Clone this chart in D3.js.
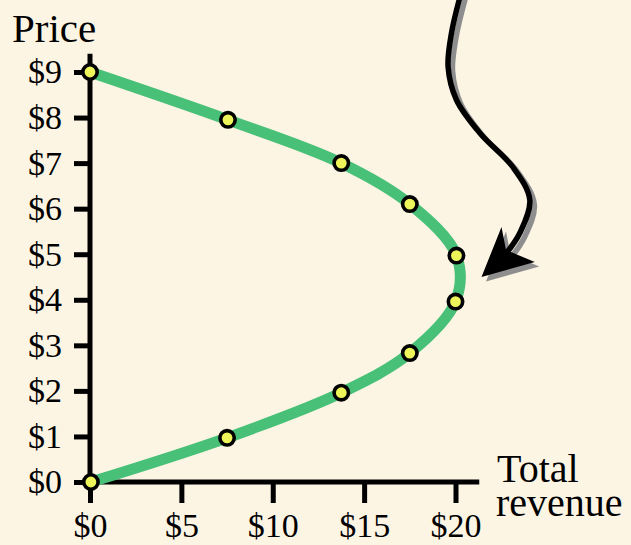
<!DOCTYPE html>
<html>
<head>
<meta charset="utf-8">
<script src="https://cdn.jsdelivr.net/npm/d3@7"></script>
<style>
  html, body { margin: 0; padding: 0; background: #fcf5e4; }
  svg { display: block; }
  text { font-family: "Liberation Serif", "Times New Roman", serif; fill: #000; }
</style>
</head>
<body>
<svg id="chart" width="631" height="545"></svg>
<script>
// Total revenue at each price along the demand curve
const prices   = [9, 7.95, 7.0, 6.1, 4.97, 3.96, 2.83, 1.96, 0.97, 0];
const revenues = [0, 7.55, 13.75, 17.5, 20.05, 20.0, 17.5, 13.75, 7.5, 0.05];

const priceTicks   = [0, 1, 2, 3, 4, 5, 6, 7, 8, 9];
const revenueTicks = [0, 5, 10, 15, 20];

// Peak of total revenue, where the arrow points (between $4 and $5)
const peakRevenue = 20;
const peakPrice = 4.5;

const svg = d3.select("#chart");
const W = 631, H = 545;

svg.append("rect").attr("width", W).attr("height", H).attr("fill", "#fcf5e4");

const x = d3.scaleLinear().domain([0, 20]).range([90, 455.5]);
const y = d3.scaleLinear().domain([0, 9]).range([482, 72]);

// Y axis
const yAxis = d3.axisLeft(y)
  .tickValues(priceTicks)
  .tickFormat(d => "$" + d)
  .tickSize(16)
  .tickPadding(12);
const gy = svg.append("g").attr("transform", `translate(${x(0)},0)`).call(yAxis);
gy.select(".domain").remove();
gy.selectAll(".tick line").attr("stroke", "#000").attr("stroke-width", 5);
gy.selectAll(".tick text").attr("font-size", 34)
  .attr("font-family", "'Liberation Serif', 'Times New Roman', serif").attr("fill", "#000");

// X axis
const xAxis = d3.axisBottom(x)
  .tickValues(revenueTicks)
  .tickFormat(d => "$" + d)
  .tickSize(21)
  .tickPadding(10);
const gx = svg.append("g").attr("transform", `translate(0,${y(0)})`).call(xAxis);
gx.select(".domain").remove();
gx.selectAll(".tick line").attr("stroke", "#000").attr("stroke-width", 5);
gx.selectAll(".tick text").attr("font-size", 34)
  .attr("font-family", "'Liberation Serif', 'Times New Roman', serif").attr("fill", "#000");

// Axis lines
svg.append("line")
  .attr("x1", x(0)).attr("x2", x(0))
  .attr("y1", y(9.4)).attr("y2", y(0) + 2.5)
  .attr("stroke", "#000").attr("stroke-width", 5);
svg.append("line")
  .attr("x1", x(0) - 2.5).attr("x2", x(21.3))
  .attr("y1", y(0)).attr("y2", y(0))
  .attr("stroke", "#000").attr("stroke-width", 5);

// Axis titles
svg.append("text").attr("x", 12).attr("y", 42).attr("font-size", 41).text("Price");
svg.append("text").attr("x", 497).attr("y", 482).attr("font-size", 40).text("Total");
svg.append("text").attr("x", 496).attr("y", 516).attr("font-size", 40).text("revenue");

// Revenue curve
const pts = prices.map((p, i) => ({ p, r: revenues[i] }));
const line = d3.line()
  .x(d => x(d.r))
  .y(d => y(d.p))
  .curve(d3.curveCatmullRom.alpha(0.5));

svg.append("path")
  .datum(pts)
  .attr("d", line)
  .attr("fill", "none")
  .attr("stroke", "#48c078")
  .attr("stroke-width", 11)
  .attr("stroke-linecap", "round");

svg.selectAll("circle.pt")
  .data(pts)
  .join("circle")
  .attr("class", "pt")
  .attr("cx", d => x(d.r))
  .attr("cy", d => y(d.p))
  .attr("r", 7.2)
  .attr("fill", "#eef55a")
  .attr("stroke", "#000")
  .attr("stroke-width", 3.6);

// Curved annotation arrow pointing at the revenue peak
const tipX = x(peakRevenue) + 26, tipY = y(peakPrice);
const shaft = [
  [-21, -282], [-30, -244], [-33.4, -210], [-25, -177], [-1.7, -144],
  [31.3, -110], [48.3, -77], [38.3, -44], [25, -24]
];
const head = [[0, 0], [20, -50], [24.5, -27], [53.3, -15]];
const shaftLine = d3.line().curve(d3.curveCatmullRom.alpha(0.5));

function drawArrow(dx, dy, color) {
  const g = svg.append("g").attr("transform", `translate(${tipX + dx},${tipY + dy})`);
  g.append("path")
    .attr("d", shaftLine(shaft))
    .attr("fill", "none")
    .attr("stroke", color)
    .attr("stroke-width", 5.5)
    .attr("stroke-linecap", "round");
  g.append("polygon")
    .attr("points", head.map(p => p.join(",")).join(" "))
    .attr("fill", color);
}
drawArrow(4.5, 4.5, "#8e8e8e");
drawArrow(0, 0, "#000");
</script>
</body>
</html>
